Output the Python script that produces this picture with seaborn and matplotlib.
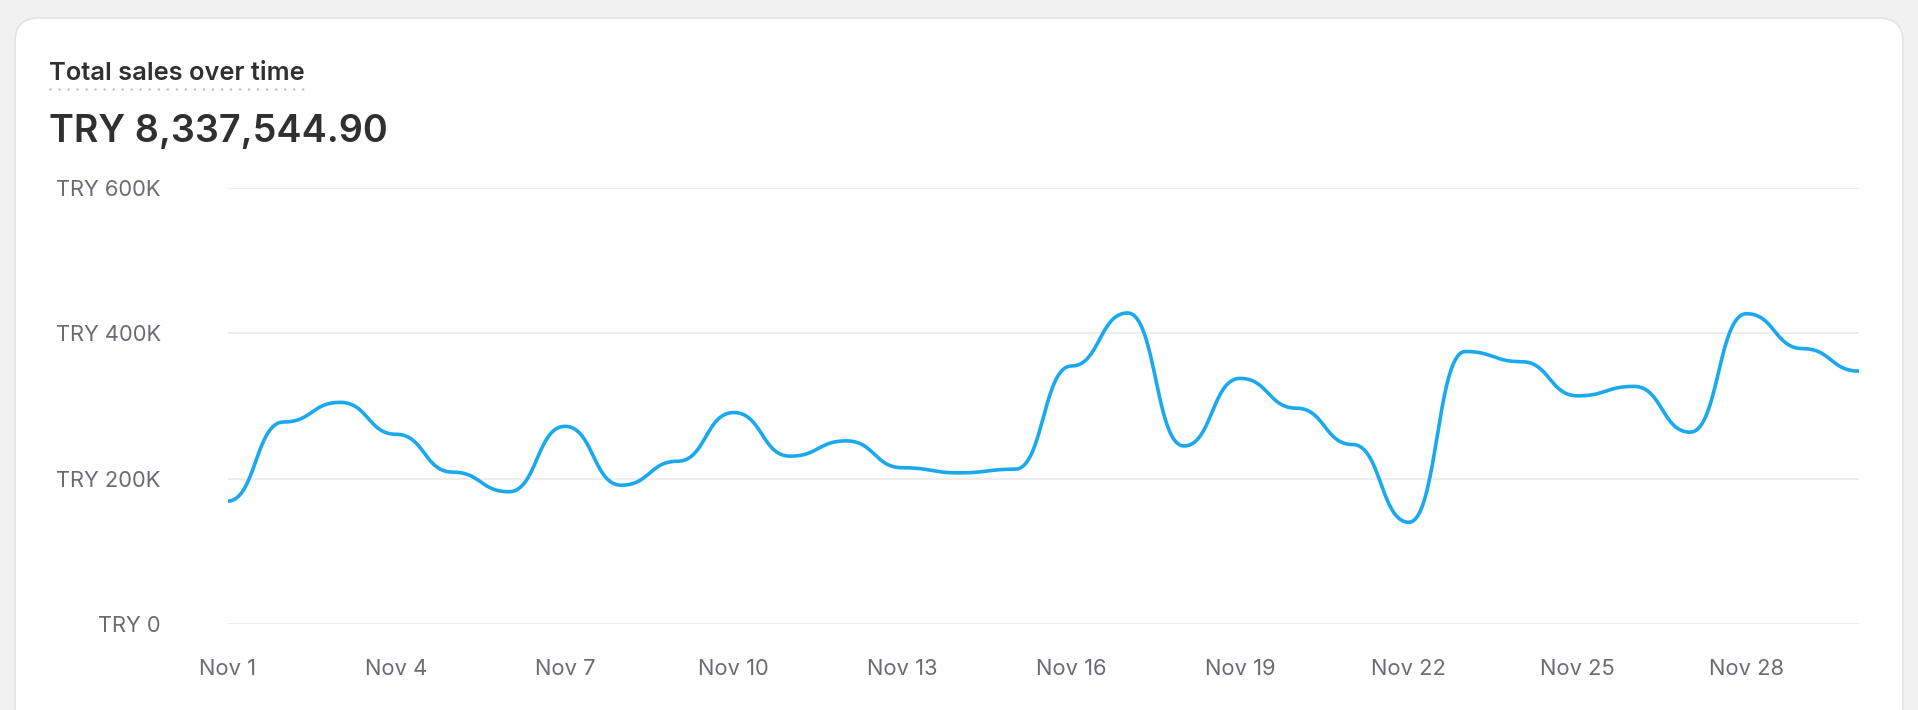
import numpy as np
import pandas as pd
import seaborn as sns
from matplotlib import pyplot as plt
from matplotlib.patches import FancyBboxPatch
from matplotlib.lines import Line2D

# daily total sales, Nov 1 - Nov 30 (thousands of TRY)
days = np.arange(1, 31)
sales_k = [169, 278, 305, 261, 209, 182, 272, 191, 224, 291,
           231, 252, 215, 208, 213, 355, 428, 245, 338, 297,
           247, 140, 375, 361, 314, 327, 264, 427, 379, 348]
tick_days = [1, 4, 7, 10, 13, 16, 19, 22, 25, 28]
tick_labels = ["Nov %d" % d for d in tick_days]
y_ticks = [0, 200000, 400000, 600000]
y_labels = ["TRY 0", "TRY 200K", "TRY 400K", "TRY 600K"]
title = "Total sales over time"
total = "TRY 8,337,544.90"

line_color = "#1AA9EF"
text_dark = "#303030"
tick_color = "#6b6b74"
grid_color = "#ebebeb"

sns.set_theme(style="white")
plt.rcParams['font.family'] = ['Inter', 'DejaVu Sans']


def bump_curve(x, y, n=40):
    # rounded steps: horizontal tangent at every point (like d3 curveBumpX)
    t = np.linspace(0, 1, n)
    xs, ys = [x[0]], [y[0]]
    for x0, x1, y0, y1 in zip(x[:-1], x[1:], y[:-1], y[1:]):
        xm = (x0 + x1) / 2
        bx = (1 - t) ** 3 * x0 + 3 * (1 - t) ** 2 * t * xm + 3 * (1 - t) * t ** 2 * xm + t ** 3 * x1
        by = (1 - t) ** 3 * y0 + 3 * (1 - t) ** 2 * t * y0 + 3 * (1 - t) * t ** 2 * y1 + t ** 3 * y1
        xs.extend(bx[1:])
        ys.extend(by[1:])
    return np.array(xs), np.array(ys)


sales = np.array(sales_k, dtype=float) * 1000
cx, cy = bump_curve(days.astype(float), sales)
df = pd.DataFrame({"day": cx, "sales": cy})

W, H = 1918, 710
fig = plt.figure(figsize=(W / 100, H / 100), dpi=100)
fig.patch.set_facecolor("#f1f1f1")

# card background
bg = fig.add_axes([0, 0, 1, 1])
bg.set_xlim(0, W)
bg.set_ylim(H, 0)
bg.axis("off")
bg.add_patch(FancyBboxPatch((15, 18), 1888, 760, boxstyle="round,pad=0,rounding_size=24",
                            facecolor="white", edgecolor="#e3e3e3", linewidth=1.2))

ax = fig.add_axes([227.5 / W, 1 - 624 / H, (1859 - 227.5) / W, (624 - 188) / H])
ax.set_facecolor("none")
sns.lineplot(data=df, x="day", y="sales", sort=False, estimator=None,
             color=line_color, linewidth=2.6, ax=ax, zorder=3)

ax.set_xlim(1, 30)
ax.set_ylim(0, 600000)
ax.set_yticks(y_ticks)
ax.set_yticklabels(y_labels)
ax.set_xticks(tick_days)
ax.set_xticklabels(tick_labels)
ax.set_xlabel("")
ax.set_ylabel("")
ax.tick_params(axis="y", length=0, pad=48, labelsize=15.8, labelcolor=tick_color)
ax.tick_params(axis="x", length=0, pad=25.5, labelsize=15.8, labelcolor=tick_color)
ax.yaxis.grid(True, color=grid_color, linewidth=1.2)
ax.xaxis.grid(False)
ax.set_axisbelow(True)
sns.despine(ax=ax, left=True, bottom=True)

fig.text(49 / W, 1 - 80 / H, title, fontsize=18.3, fontweight="semibold",
         color=text_dark, ha="left", va="baseline")
fig.add_artist(Line2D([50 / W, 304 / W], [1 - 89 / H, 1 - 89 / H], transform=fig.transFigure,
                      color="#bdbdbd", linewidth=1.8, linestyle=(0, (0.01, 3.6)),
                      dash_capstyle="round"))
fig.text(49 / W, 1 - 142 / H, total, fontsize=27.2, fontweight="semibold",
         color=text_dark, ha="left", va="baseline")

fig.savefig("out.png", dpi=100, facecolor=fig.get_facecolor())
